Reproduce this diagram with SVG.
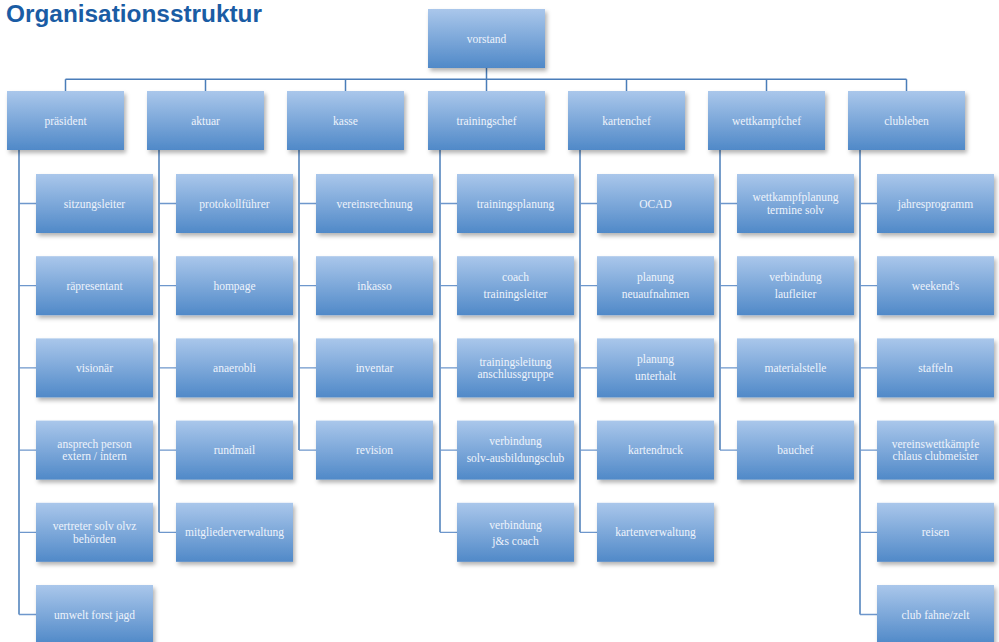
<svg xmlns="http://www.w3.org/2000/svg" width="999" height="642" viewBox="0 0 999 642">
<defs>
<linearGradient id="g" x1="0" y1="0" x2="0" y2="1">
<stop offset="0" stop-color="#aac7eb"/>
<stop offset="1" stop-color="#5089c8"/>
</linearGradient>
<filter id="sh" x="-10%" y="-10%" width="130%" height="140%">
<feDropShadow dx="2" dy="3" stdDeviation="2" flood-color="#000" flood-opacity="0.3"/>
</filter>
</defs>
<style>
.b{fill:url(#g);filter:url(#sh)}
.t{font-family:"Liberation Serif","DejaVu Serif",serif;font-size:11.5px;fill:#eef3fb;text-anchor:middle}
.c{fill:none;stroke:#4a7db9;stroke-width:1.5}
.h{fill:none;stroke:#6e97cc;stroke-width:1.3}
.ti{font-family:"Liberation Sans","Noto Sans",sans-serif;font-weight:bold;font-size:23px;fill:#1a5ca4}
</style>
<rect width="999" height="642" fill="#fff"/>
<text class="ti" x="6" y="21.5" textLength="256" lengthAdjust="spacingAndGlyphs">Organisationsstruktur</text>
<g id="connectors">
<path class="c" d="M486.5 68V79.3M65.5 79.3H906.5M65.5 79.3V91M205.5 79.3V91M345.5 79.3V91M486.5 79.3V91M626.5 79.3V91M766.5 79.3V91M906.5 79.3V91"/>
<path class="c" d="M19 150V614.5M159 150V532.3M299 150V450.1M440 150V532.3M580 150V532.3M720 150V450.1M860 150V614.5"/>
<path class="h" d="M19 203.5H36M19 285.7H36M19 367.9H36M19 450.1H36M19 532.3H36M19 614.5H36"/>
<path class="h" d="M159 203.5H176M159 285.7H176M159 367.9H176M159 450.1H176M159 532.3H176"/>
<path class="h" d="M299 203.5H316M299 285.7H316M299 367.9H316M299 450.1H316"/>
<path class="h" d="M440 203.5H457M440 285.7H457M440 367.9H457M440 450.1H457M440 532.3H457"/>
<path class="h" d="M580 203.5H597M580 285.7H597M580 367.9H597M580 450.1H597M580 532.3H597"/>
<path class="h" d="M720 203.5H737M720 285.7H737M720 367.9H737M720 450.1H737"/>
<path class="h" d="M860 203.5H877M860 285.7H877M860 367.9H877M860 450.1H877M860 532.3H877M860 614.5H877"/>
</g>
<g id="vorstand"><rect class="b" x="428" y="9" width="117" height="59"/><text class="t" x="486.5" y="42.5">vorstand</text></g>
<g id="praesident"><rect class="b" x="7" y="91" width="117" height="59"/><text class="t" x="65.5" y="124.5">präsident</text></g>
<g id="aktuar"><rect class="b" x="147" y="91" width="117" height="59"/><text class="t" x="205.5" y="124.5">aktuar</text></g>
<g id="kasse"><rect class="b" x="287" y="91" width="117" height="59"/><text class="t" x="345.5" y="124.5">kasse</text></g>
<g id="trainingschef"><rect class="b" x="428" y="91" width="117" height="59"/><text class="t" x="486.5" y="124.5">trainingschef</text></g>
<g id="kartenchef"><rect class="b" x="568" y="91" width="117" height="59"/><text class="t" x="626.5" y="124.5">kartenchef</text></g>
<g id="wettkampfchef"><rect class="b" x="708" y="91" width="117" height="59"/><text class="t" x="766.5" y="124.5">wettkampfchef</text></g>
<g id="clubleben"><rect class="b" x="848" y="91" width="117" height="59"/><text class="t" x="906.5" y="124.5">clubleben</text></g>

<g id="sitzungsleiter"><rect class="b" x="36" y="174" width="117" height="59"/><text class="t" x="94.5" y="207.5">sitzungsleiter</text></g>
<g id="raepresentant"><rect class="b" x="36" y="256.2" width="117" height="59"/><text class="t" x="94.5" y="289.7">räpresentant</text></g>
<g id="visionaer"><rect class="b" x="36" y="338.4" width="117" height="59"/><text class="t" x="94.5" y="371.9">visionär</text></g>
<g id="ansprech"><rect class="b" x="36" y="420.6" width="117" height="59"/><text class="t" x="94.5" y="447.6">ansprech person</text><text class="t" x="94.5" y="459.6">extern / intern</text></g>
<g id="vertreter"><rect class="b" x="36" y="502.8" width="117" height="59"/><text class="t" x="94.5" y="529.8">vertreter solv olvz</text><text class="t" x="94.5" y="542.8">behörden</text></g>
<g id="umwelt"><rect class="b" x="36" y="585" width="117" height="59"/><text class="t" x="94.5" y="618.5">umwelt forst jagd</text></g>

<g id="protokollfuehrer"><rect class="b" x="176" y="174" width="117" height="59"/><text class="t" x="234.5" y="207.5">protokollführer</text></g>
<g id="hompage"><rect class="b" x="176" y="256.2" width="117" height="59"/><text class="t" x="234.5" y="289.7">hompage</text></g>
<g id="anaerobli"><rect class="b" x="176" y="338.4" width="117" height="59"/><text class="t" x="234.5" y="371.9">anaerobli</text></g>
<g id="rundmail"><rect class="b" x="176" y="420.6" width="117" height="59"/><text class="t" x="234.5" y="454.1">rundmail</text></g>
<g id="mitgliederverwaltung"><rect class="b" x="176" y="502.8" width="117" height="59"/><text class="t" x="234.5" y="536.3">mitgliederverwaltung</text></g>

<g id="vereinsrechnung"><rect class="b" x="316" y="174" width="117" height="59"/><text class="t" x="374.5" y="207.5">vereinsrechnung</text></g>
<g id="inkasso"><rect class="b" x="316" y="256.2" width="117" height="59"/><text class="t" x="374.5" y="289.7">inkasso</text></g>
<g id="inventar"><rect class="b" x="316" y="338.4" width="117" height="59"/><text class="t" x="374.5" y="371.9">inventar</text></g>
<g id="revision"><rect class="b" x="316" y="420.6" width="117" height="59"/><text class="t" x="374.5" y="454.1">revision</text></g>

<g id="trainingsplanung"><rect class="b" x="457" y="174" width="117" height="59"/><text class="t" x="515.5" y="207.5">trainingsplanung</text></g>
<g id="coach"><rect class="b" x="457" y="256.2" width="117" height="59"/><text class="t" x="515.5" y="281">coach</text><text class="t" x="515.5" y="298">trainingsleiter</text></g>
<g id="trainingsleitung"><rect class="b" x="457" y="338.4" width="117" height="59"/><text class="t" x="515.5" y="365.6">trainingsleitung</text><text class="t" x="515.5" y="377.6">anschlussgruppe</text></g>
<g id="verbindung-solv"><rect class="b" x="457" y="420.6" width="117" height="59"/><text class="t" x="515.5" y="445.4">verbindung</text><text class="t" x="515.5" y="462.2">solv-ausbildungsclub</text></g>
<g id="verbindung-js"><rect class="b" x="457" y="502.8" width="117" height="59"/><text class="t" x="515.5" y="528.5">verbindung</text><text class="t" x="515.5" y="544.5">j&amp;s coach</text></g>

<g id="ocad"><rect class="b" x="597" y="174" width="117" height="59"/><text class="t" x="655.5" y="207.5">OCAD</text></g>
<g id="planung-neu"><rect class="b" x="597" y="256.2" width="117" height="59"/><text class="t" x="655.5" y="281">planung</text><text class="t" x="655.5" y="298">neuaufnahmen</text></g>
<g id="planung-unterhalt"><rect class="b" x="597" y="338.4" width="117" height="59"/><text class="t" x="655.5" y="363">planung</text><text class="t" x="655.5" y="380">unterhalt</text></g>
<g id="kartendruck"><rect class="b" x="597" y="420.6" width="117" height="59"/><text class="t" x="655.5" y="454.1">kartendruck</text></g>
<g id="kartenverwaltung"><rect class="b" x="597" y="502.8" width="117" height="59"/><text class="t" x="655.5" y="536.3">kartenverwaltung</text></g>

<g id="wettkampfplanung"><rect class="b" x="737" y="174" width="117" height="59"/><text class="t" x="795.5" y="201">wettkampfplanung</text><text class="t" x="795.5" y="214">termine solv</text></g>
<g id="verbindung-lauf"><rect class="b" x="737" y="256.2" width="117" height="59"/><text class="t" x="795.5" y="281">verbindung</text><text class="t" x="795.5" y="298">laufleiter</text></g>
<g id="materialstelle"><rect class="b" x="737" y="338.4" width="117" height="59"/><text class="t" x="795.5" y="371.9">materialstelle</text></g>
<g id="bauchef"><rect class="b" x="737" y="420.6" width="117" height="59"/><text class="t" x="795.5" y="454.1">bauchef</text></g>

<g id="jahresprogramm"><rect class="b" x="877" y="174" width="117" height="59"/><text class="t" x="935.5" y="207.5">jahresprogramm</text></g>
<g id="weekends"><rect class="b" x="877" y="256.2" width="117" height="59"/><text class="t" x="935.5" y="289.7">weekend's</text></g>
<g id="staffeln"><rect class="b" x="877" y="338.4" width="117" height="59"/><text class="t" x="935.5" y="371.9">staffeln</text></g>
<g id="vereinswettkaempfe"><rect class="b" x="877" y="420.6" width="117" height="59"/><text class="t" x="935.5" y="447.6">vereinswettkämpfe</text><text class="t" x="935.5" y="459.6">chlaus clubmeister</text></g>
<g id="reisen"><rect class="b" x="877" y="502.8" width="117" height="59"/><text class="t" x="935.5" y="536.3">reisen</text></g>
<g id="clubfahne"><rect class="b" x="877" y="585" width="117" height="59"/><text class="t" x="935.5" y="618.5">club fahne/zelt</text></g>
</svg>
